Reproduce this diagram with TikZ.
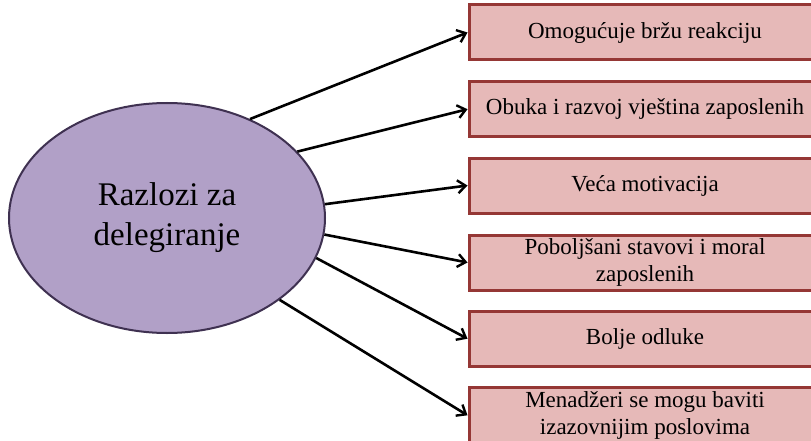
\documentclass[tikz,border=0pt]{standalone}
\usepackage{fontspec}
\setmainfont{Liberation Serif}
\usetikzlibrary{shapes.geometric,arrows.meta}
\definecolor{ellfill}{HTML}{B1A0C7}
\definecolor{elldraw}{HTML}{3F3151}
\definecolor{boxfill}{HTML}{E6B9B8}
\definecolor{boxdraw}{HTML}{953735}
\tikzset{
  hub/.style={ellipse, draw=elldraw, fill=ellfill, line width=2pt,
    minimum width=316pt, minimum height=230pt, inner sep=0pt, align=center,
    font=\fontsize{33}{40}\selectfont},
  reason/.style={rectangle, draw=boxdraw, fill=boxfill, line width=3pt,
    minimum width=352pt, minimum height=55pt, inner sep=0pt, align=center,
    font=\fontsize{23}{27}\selectfont},
  link/.style={line width=2.6pt, -{Straight Barb[length=8pt,width=13pt,line width=2.4pt]}}
}
\begin{document}
\begin{tikzpicture}[x=1pt,y=1pt]
\clip (0,0) rectangle (811,-441);
\fill[white] (0,0) rectangle (811,-441);
\node[hub] (e) at (167,-218) {Razlozi za\\delegiranje};
\node[reason] (b1) at (645,-32.5) {Omogućuje bržu reakciju};
\node[reason] (b2) at (645,-109.2) {Obuka i razvoj vještina zaposlenih};
\node[reason] (b3) at (645,-185.5) {Veća motivacija};
\node[reason] (b4) at (645,-262.5) {Poboljšani stavovi i moral\\zaposlenih};
\node[reason] (b5) at (645,-338.7) {Bolje odluke};
\node[reason] (b6) at (645,-415.3) {Menadžeri se mogu baviti\\izazovnijim poslovima};
\draw[link] (e.50.4) -- (b1.west);
\draw[link] (e.27.3) -- (b2.west);
\draw[link] (e.5) -- (b3.west);
\draw[link] (e.-6.5) -- (b4.west);
\draw[link] (e.-15) -- (b5.west);
\draw[link] (e.-36.9) -- (b6.west);
\end{tikzpicture}
\end{document}
